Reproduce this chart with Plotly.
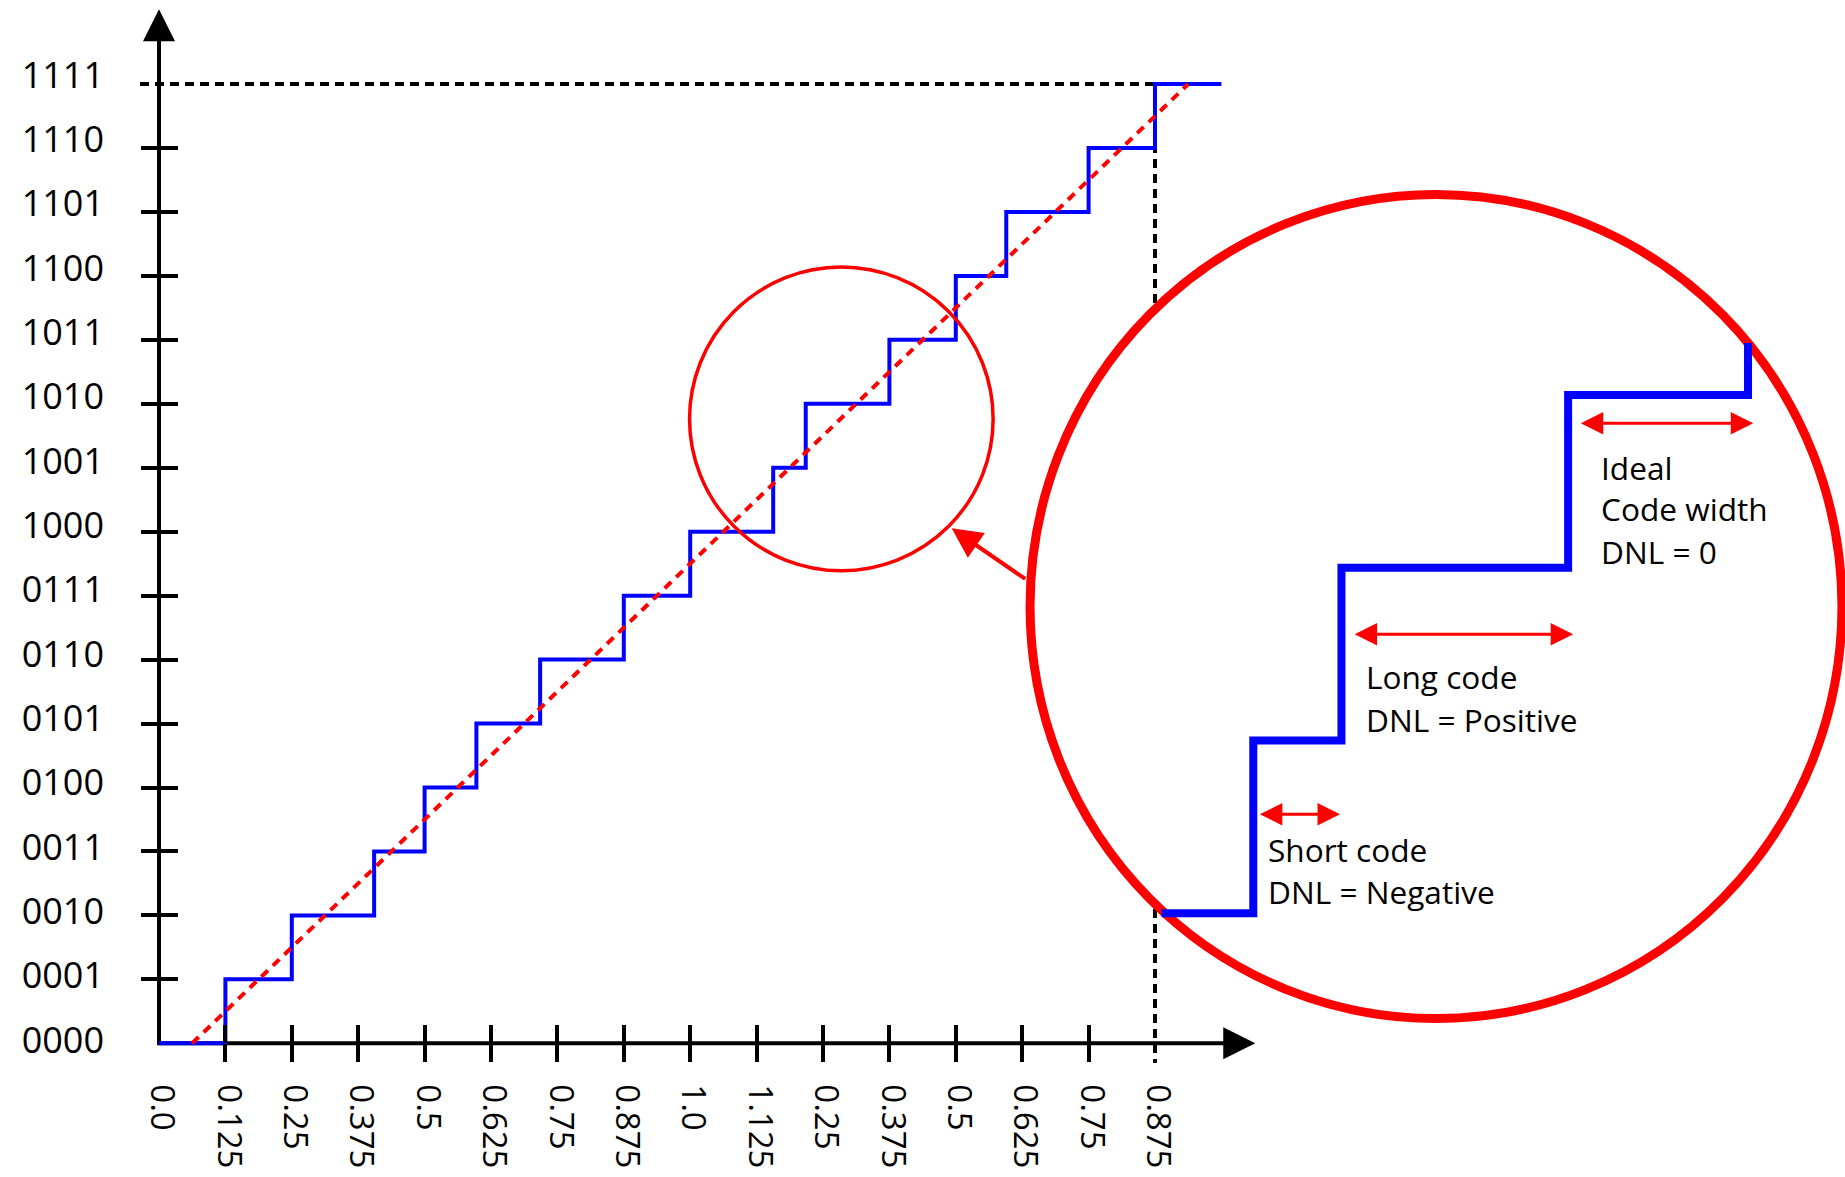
import plotly.graph_objects as go

# ---------------- data ----------------
x_tick_labels = ["0.0", "0.125", "0.25", "0.375", "0.5", "0.625", "0.75", "0.875",
                 "1.0", "1.125", "0.25", "0.375", "0.5", "0.625", "0.75", "0.875"]
y_tick_labels = ["0000", "0001", "0010", "0011", "0100", "0101", "0110", "0111",
                 "1000", "1001", "1010", "1011", "1100", "1101", "1110", "1111"]
# input position (tick units) at which the output code steps from k to k+1
step_edges = [1.0, 2.0, 3.24, 4.0, 4.78, 5.74, 7.0, 8.0, 9.25, 9.74, 11.0, 12.0, 12.76, 14.0, 15.0]
step_end = 16.0
ideal_in = [0.5, 15.5]
ideal_code = [0, 15]
# magnified part (codes 1000..1011)
zoom_codes = [8, 9, 10, 11]
zoom_start = 8.74
zoom_top = 11.30

# ---------------- geometry (pixels) ----------------
W, H = 1845, 1177
X0_PX, Y0_PX = 159.0, 1043.3          # pixel of main origin
UX, UY = 66.4, 63.95                   # px per tick / per code
ZX_REF, ZX_PX, ZUX = 9.25, 1253.3, 179.9   # inset x anchor
ZY_REF, ZY_PX, ZUY = 8.0, 913.3, 172.8     # inset y anchor
LBL_Y0_PX, LBL_UY = 1040.0, 64.33          # y tick-label placement
LBL_DX_PX = 3.0                            # x tick-label offset

x_range = [-X0_PX / UX, (W - X0_PX) / UX]
y_range = [-(H - Y0_PX) / UY, Y0_PX / UY]
xl_range = [x_range[0] - LBL_DX_PX / UX, x_range[1] - LBL_DX_PX / UX]
yl_range = [-(H - LBL_Y0_PX) / LBL_UY, LBL_Y0_PX / LBL_UY]
x2_range = [ZX_REF - ZX_PX / ZUX, ZX_REF + (W - ZX_PX) / ZUX]
y2_range = [ZY_REF - (H - ZY_PX) / ZUY, ZY_REF + ZY_PX / ZUY]
pos_x = X0_PX / W
pos_y = (H - Y0_PX) / H

FONT = "Open Sans"
BLUE = "#0000FF"
RED = "#FF0000"

fig = go.Figure()

# main staircase
fig.add_trace(go.Scatter(
    x=[0.0] + step_edges + [step_end],
    y=list(range(len(step_edges) + 1)) + [len(step_edges)],
    mode="lines", line=dict(color=BLUE, width=4, shape="hv"),
    hoverinfo="skip", showlegend=False))
# ideal transfer line
fig.add_trace(go.Scatter(
    x=ideal_in, y=ideal_code, mode="lines",
    line=dict(color=RED, width=4, dash="9px,7px"),
    hoverinfo="skip", showlegend=False))
# magnified staircase
zx = [zoom_start] + [step_edges[c] for c in zoom_codes]
zy = zoom_codes + [zoom_top]
fig.add_trace(go.Scatter(
    x=zx, y=zy, xaxis="x2", yaxis="y2", mode="lines",
    line=dict(color=BLUE, width=8, shape="hv"),
    hoverinfo="skip", showlegend=False))
# empty traces to register tick / label axes
for xa, ya in [("x3", "y"), ("x4", "y"), ("x5", "y"), ("x", "y3"), ("x", "y4"), ("x", "y5")]:
    fig.add_trace(go.Scatter(x=[None], y=[None], xaxis=xa, yaxis=ya,
                             mode="lines", hoverinfo="skip", showlegend=False))

# ---------------- shapes ----------------
BIG_C = (19.232, 6.830, 6.114, 6.443)
SMALL_C = (10.276, 9.764, 2.286, 2.374)
shapes = [
    # axis lines
    dict(type="line", xref="x", yref="y", x0=-0.03, x1=16.2, y0=0, y1=0,
         line=dict(color="black", width=4), layer="below"),
    dict(type="line", xref="x", yref="y", x0=0, x1=0, y0=0, y1=15.9,
         line=dict(color="black", width=4), layer="below"),
    # dotted guides
    dict(type="line", xref="x", yref="y", x0=-0.286, x1=15, y0=15, y1=15,
         line=dict(color="black", width=4, dash="9px,6px"), layer="below"),
    dict(type="line", xref="x", yref="y", x0=15, x1=15, y0=15, y1=-0.31,
         line=dict(color="black", width=4, dash="9px,6px"), layer="below"),
    # magnifier circle (white filled, hides guides)
    dict(type="circle", xref="x", yref="y",
         x0=BIG_C[0] - BIG_C[2], x1=BIG_C[0] + BIG_C[2],
         y0=BIG_C[1] - BIG_C[3], y1=BIG_C[1] + BIG_C[3],
         line=dict(color=RED, width=9), fillcolor="white", layer="below"),
    dict(type="circle", xref="x", yref="y",
         x0=SMALL_C[0] - SMALL_C[2], x1=SMALL_C[0] + SMALL_C[2],
         y0=SMALL_C[1] - SMALL_C[3], y1=SMALL_C[1] + SMALL_C[3],
         line=dict(color=RED, width=3.5), layer="above"),
]
fig.update_layout(shapes=shapes)

# ---------------- annotations ----------------
ann = []
# axis arrow heads
ann.append(dict(x=0, y=16.17, ax=0, ay=15.8, xref="x", yref="y", axref="x", ayref="y",
                text="", showarrow=True, arrowhead=2, arrowsize=1.6, arrowwidth=4,
                arrowcolor="black", standoff=0))
ann.append(dict(x=16.51, y=0, ax=16.0, ay=0, xref="x", yref="y", axref="x", ayref="y",
                text="", showarrow=True, arrowhead=2, arrowsize=1.6, arrowwidth=4,
                arrowcolor="black", standoff=0))
# pointer from magnified circle to small circle
ann.append(dict(x=11.938, y=8.053, ax=13.068, ay=7.245, xref="x", yref="y",
                axref="x", ayref="y", text="", showarrow=True, arrowhead=2,
                arrowsize=1.5, arrowwidth=4, arrowcolor=RED, standoff=0))
# double arrows inside inset
for (xa, xb, yv) in [(9.278, 9.732, 8.573), (9.805, 11.028, 9.615), (11.062, 12.029, 10.836)]:
    ann.append(dict(x=xb, y=yv, ax=xa, ay=yv, xref="x2", yref="y2", axref="x2", ayref="y2",
                    text="", showarrow=True, arrowside="end+start",
                    arrowhead=2, startarrowhead=2, arrowsize=1.5, startarrowsize=1.5,
                    arrowwidth=3, arrowcolor=RED, standoff=0, startstandoff=0))
# inset texts
for (tx, ty, t) in [(9.320, 8.368, "Short code"), (9.320, 8.127, "DNL = Negative"),
                    (9.864, 9.368, "Long code"), (9.864, 9.124, "DNL = Positive"),
                    (11.171, 10.582, "Ideal"), (11.171, 10.345, "Code width"),
                    (11.171, 10.094, "DNL = 0")]:
    ann.append(dict(x=tx, y=ty, xref="x2", yref="y2", text=t, showarrow=False,
                    xanchor="left", yanchor="middle",
                    font=dict(family=FONT, size=31.6, color="black")))
fig.update_layout(annotations=ann)

# ---------------- axes ----------------
off = dict(showgrid=False, zeroline=False, showline=False)
tick_common = dict(tickmode="array", ticklen=18, tickwidth=4, tickcolor="black",
                   showticklabels=False)
fig.update_layout(
    width=W, height=H, margin=dict(l=0, r=0, t=0, b=0),
    paper_bgcolor="white", plot_bgcolor="white",
    xaxis=dict(range=x_range, anchor="free", position=pos_y, showticklabels=False,
               ticks="", **off),
    yaxis=dict(range=y_range, anchor="free", position=pos_x, showticklabels=False,
               ticks="", **off),
    # tick labels
    xaxis5=dict(overlaying="x", range=xl_range, anchor="free", position=pos_y, **off,
                tickmode="array", tickvals=list(range(16)), ticktext=x_tick_labels,
                ticks="", tickangle=90, ticklabelstandoff=40,
                tickfont=dict(family=FONT, size=33, color="black")),
    yaxis5=dict(overlaying="y", range=yl_range, anchor="free", position=pos_x, **off,
                tickmode="array", tickvals=list(range(16)), ticktext=y_tick_labels,
                ticks="", ticklabelstandoff=55,
                tickfont=dict(family=FONT, size=36, color="black")),
    # tick marks crossing the axes
    xaxis3=dict(overlaying="x", range=x_range, anchor="free", position=pos_y, **off,
                tickvals=list(range(1, 15)), ticks="outside", **tick_common),
    xaxis4=dict(overlaying="x", range=x_range, anchor="free", position=pos_y, **off,
                tickvals=list(range(1, 15)), ticks="inside", **tick_common),
    yaxis3=dict(overlaying="y", range=y_range, anchor="free", position=pos_x, **off,
                tickvals=list(range(1, 15)), ticks="outside", **tick_common),
    yaxis4=dict(overlaying="y", range=y_range, anchor="free", position=pos_x, **off,
                tickvals=list(range(1, 15)), ticks="inside", **tick_common),
    # magnified view
    xaxis2=dict(overlaying="x", range=x2_range, visible=False, anchor="free", position=0),
    yaxis2=dict(overlaying="y", range=y2_range, visible=False, anchor="free", position=0),
)

fig.write_html("out.html", config={"displayModeBar": False},
               post_script="document.body.style.margin='0';document.body.style.overflow='hidden';")
